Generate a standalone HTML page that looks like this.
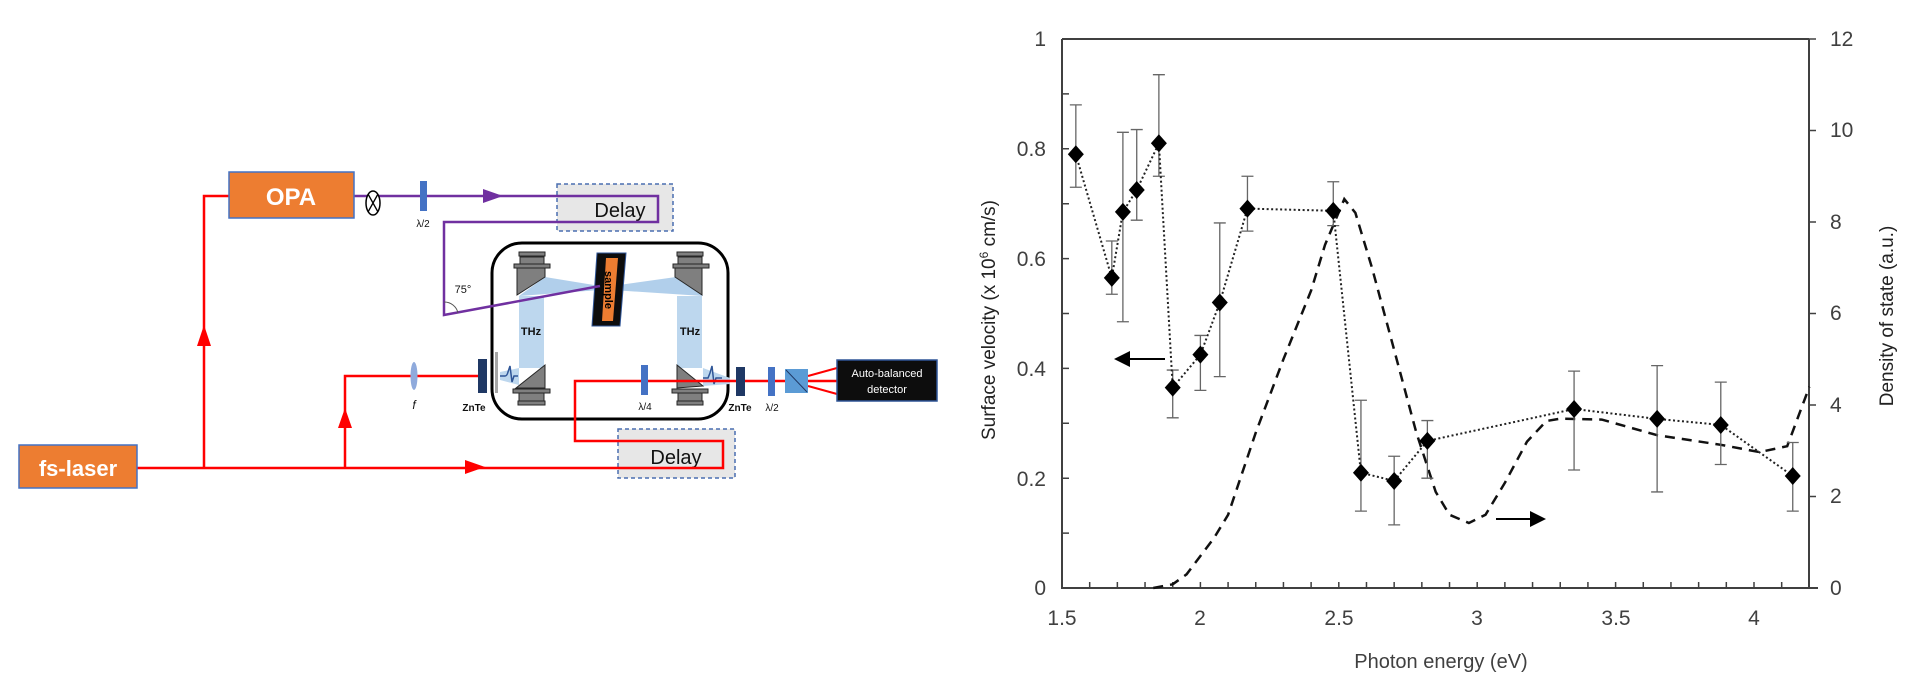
<!DOCTYPE html>
<html><head><meta charset="utf-8"><style>
html,body{margin:0;padding:0;background:#fff;}
svg{display:block;}
text{font-family:"Liberation Sans",sans-serif;}
</style></head><body>
<svg id="s" width="1920" height="682" viewBox="0 0 1920 682" xmlns="http://www.w3.org/2000/svg">
<rect width="1920" height="682" fill="#fff"/>

<!-- ===== LEFT DIAGRAM ===== -->
<!-- delay boxes -->
<rect x="557" y="184" width="116" height="47" fill="#e7e7e7" stroke="#4a6fb0" stroke-width="1.5" stroke-dasharray="4,3"/>
<rect x="618" y="429" width="117" height="49" fill="#e7e7e7" stroke="#4a6fb0" stroke-width="1.5" stroke-dasharray="4,3"/>
<text x="620" y="217" font-size="20" text-anchor="middle" fill="#111">Delay</text>
<text x="676" y="464" font-size="20" text-anchor="middle" fill="#111">Delay</text>

<!-- black rounded box -->
<rect x="492" y="243" width="236" height="176" rx="30" fill="none" stroke="#000" stroke-width="3"/>

<!-- THz beams -->
<polygon points="519,296 545,277 600,286 600,290" fill="#9dc3e6" opacity="0.8"/>
<polygon points="703,296 676,277 612,286 612,290" fill="#9dc3e6" opacity="0.8"/>
<rect x="519" y="296" width="25" height="72" fill="#bdd7ee"/>
<rect x="677" y="296" width="25" height="72" fill="#bdd7ee"/>
<polygon points="500,372 519,368 519,385 500,380" fill="#bdd7ee"/>
<polygon points="703,368 730,378 730,384 703,386" fill="#bdd7ee"/>

<!-- mirrors -->
<g fill="#7f7f7f" stroke="#262626" stroke-width="1">
<polygon points="517,268 545,268 545,277 517,295"/>
<rect x="514" y="264" width="36" height="4"/>
<rect x="520" y="257" width="24" height="7"/>
<rect x="519" y="252" width="26" height="4"/>
<polygon points="675,268 702,268 702,295 675,277"/>
<rect x="673" y="264" width="36" height="4"/>
<rect x="678" y="257" width="24" height="7"/>
<rect x="677" y="252" width="26" height="4"/>
<polygon points="516,388 545,365 545,388"/>
<rect x="513" y="389" width="37" height="4"/>
<rect x="519" y="393" width="25" height="8"/>
<rect x="518" y="401" width="27" height="4"/>
<polygon points="677,365 703,386 677,388"/>
<rect x="672" y="389" width="36" height="4"/>
<rect x="678" y="393" width="24" height="8"/>
<rect x="677" y="401" width="26" height="4"/>
</g>
<text x="531" y="335" font-size="11" font-weight="bold" text-anchor="middle" fill="#111">THz</text>
<text x="690" y="335" font-size="11" font-weight="bold" text-anchor="middle" fill="#111">THz</text>

<!-- wave pulses -->
<path d="M500,376 L505,376 Q507,376 508,372 L510,366 L512,382 L514,376 L518,376" fill="none" stroke="#2e5597" stroke-width="1.5"/>
<path d="M703,378 L708,378 L710,373 L712,366 L714,384 L716,378 L722,378" fill="none" stroke="#2e5597" stroke-width="1.5"/>

<!-- sample -->
<polygon points="597,253 626,253 620,326 592,326" fill="#0d0d0d" stroke="#2f5597" stroke-width="1"/>
<polygon points="606,258 618,258 613,321 602,321" fill="#ed7d31"/>
<text transform="translate(609,290) rotate(90)" font-size="11" font-weight="bold" text-anchor="middle" fill="#000" dy="4">sample</text>

<!-- purple path -->
<path d="M354,196 L658,196 L658,222 L444,222 L444,315 L600,286" fill="none" stroke="#7030a0" stroke-width="2.5"/>
<polygon points="483,189 503,196 483,203" fill="#7030a0"/>
<path d="M444,302 A14,14 0 0 1 458,313" fill="none" stroke="#555" stroke-width="1"/>
<text x="463" y="293" font-size="11" text-anchor="middle" fill="#111">75°</text>
<!-- otimes -->
<ellipse cx="373" cy="203" rx="7" ry="12" fill="#fff" stroke="#000" stroke-width="1.5"/>
<path d="M368,194 L378,212 M378,194 L368,212" stroke="#000" stroke-width="1.3"/>
<!-- λ/2 top -->
<rect x="420" y="181" width="7" height="30" fill="#4472c4"/>
<text x="423" y="227" font-size="10" text-anchor="middle" fill="#111">λ/2</text>

<!-- red paths -->
<g fill="none" stroke="#ff0000" stroke-width="2.5">
<path d="M137,468 L723,468 L723,441 L575,441 L575,381 L837,381"/>
<path d="M204,468 L204,196 L229,196"/>
<path d="M345,468 L345,376 L478,376"/>
<path d="M808,376 L837,368 M808,386 L837,394" stroke-width="2"/>
</g>
<polygon points="197,346 204,325 211,346" fill="#ff0000"/>
<polygon points="338,428 345,408 352,428" fill="#ff0000"/>
<polygon points="465,460 485,467 465,474" fill="#ff0000"/>

<!-- optics on probe -->
<ellipse cx="414" cy="376" rx="3.5" ry="14" fill="#8faadc"/>
<text x="414" y="409" font-size="12" font-style="italic" font-family="Liberation Serif" text-anchor="middle" fill="#111">f</text>
<rect x="478" y="359" width="9" height="34" fill="#1f3864"/>
<rect x="495" y="352" width="3" height="41" fill="#a6a6a6"/>
<text x="474" y="411" font-size="10" font-weight="bold" text-anchor="middle" fill="#111">ZnTe</text>
<rect x="641" y="365" width="7" height="30" fill="#4472c4"/>
<text x="645" y="410" font-size="10" text-anchor="middle" fill="#111">λ/4</text>
<rect x="736" y="367" width="9" height="29" fill="#1f3864"/>
<text x="740" y="411" font-size="10" font-weight="bold" text-anchor="middle" fill="#111">ZnTe</text>
<rect x="768" y="367" width="7" height="29" fill="#4472c4"/>
<text x="772" y="411" font-size="10" text-anchor="middle" fill="#111">λ/2</text>
<rect x="785" y="369" width="23" height="24" fill="#5b9bd5"/>
<path d="M786,370 L807,392" stroke="#1f3864" stroke-width="1"/>

<!-- boxes -->
<rect x="229" y="172" width="125" height="46" fill="#ed7d31" stroke="#4472c4" stroke-width="1.5"/>
<text x="291" y="205" font-size="24" font-weight="bold" text-anchor="middle" fill="#fff">OPA</text>
<rect x="19" y="445" width="118" height="43" fill="#ed7d31" stroke="#4472c4" stroke-width="1.5"/>
<text x="78" y="476" font-size="22" font-weight="bold" text-anchor="middle" fill="#fff">fs-laser</text>
<rect x="837" y="360" width="100" height="41" fill="#0d0d0d" stroke="#2f5597" stroke-width="1.5"/>
<text x="887" y="377" font-size="11" text-anchor="middle" fill="#fff">Auto-balanced</text>
<text x="887" y="393" font-size="11" text-anchor="middle" fill="#fff">detector</text>

<!-- ===== CHART ===== -->
<g id="chart"></g>
<g font-size="21" fill="#404040">
<text x="1046" y="46" text-anchor="end">1</text>
<text x="1046" y="156" text-anchor="end">0.8</text>
<text x="1046" y="266" text-anchor="end">0.6</text>
<text x="1046" y="376" text-anchor="end">0.4</text>
<text x="1046" y="486" text-anchor="end">0.2</text>
<text x="1046" y="595" text-anchor="end">0</text>
<text x="1830" y="46">12</text>
<text x="1830" y="137">10</text>
<text x="1830" y="229">8</text>
<text x="1830" y="320">6</text>
<text x="1830" y="412">4</text>
<text x="1830" y="503">2</text>
<text x="1830" y="595">0</text>
<text x="1062" y="625" text-anchor="middle">1.5</text>
<text x="1200" y="625" text-anchor="middle">2</text>
<text x="1339" y="625" text-anchor="middle">2.5</text>
<text x="1477" y="625" text-anchor="middle">3</text>
<text x="1616" y="625" text-anchor="middle">3.5</text>
<text x="1754" y="625" text-anchor="middle">4</text>
</g>
<text x="1441" y="668" font-size="20" fill="#404040" text-anchor="middle">Photon  energy (eV)</text>
<text transform="translate(995,320) rotate(-90)" font-size="19" fill="#222" text-anchor="middle">Surface velocity (x 10<tspan font-size="12" dy="-7">6</tspan><tspan dy="7"> cm/s)</tspan></text>
<text transform="translate(1893,316) rotate(-90)" font-size="19" fill="#222" text-anchor="middle">Density of state (a.u.)</text>
</svg>
<script>
(function(){
var NS="http://www.w3.org/2000/svg",g=document.getElementById("chart");
function X(e){return 1062+(e-1.5)*276.8;}
function Y(v){return 588-v*549;}
function D(d){return 588-d*45.75;}
function el(t,a){var n=document.createElementNS(NS,t);for(var k in a)n.setAttribute(k,a[k]);g.appendChild(n);return n;}
// axes
el("path",{d:"M1062,39 L1809,39 M1062,39 L1062,588 L1818,588 M1809,39 L1809,588",stroke:"#404040","stroke-width":"2",fill:"none"});
var d="";
for(var i=1;i<10;i++){d+="M1062,"+Y(i/10)+" l7,0 ";}
for(var e=1.6;e<4.2;e+=0.1){d+="M"+X(e)+",588 l0,-6 ";}
for(var k=0;k<=12;k+=2){d+="M1809,"+D(k)+" l7,0 ";}
el("path",{d:d,stroke:"#404040","stroke-width":"1.5",fill:"none"});
// DOS dashed
var dos=[[1.83,0],[1.9,0.08],[1.95,0.3],[2.0,0.7],[2.05,1.1],[2.1,1.6],[2.2,3.4],[2.3,5.0],[2.4,6.5],[2.45,7.5],[2.52,8.5],[2.56,8.2],[2.62,7.0],[2.7,5.2],[2.78,3.4],[2.85,2.1],[2.9,1.6],[2.97,1.42],[3.03,1.6],[3.1,2.3],[3.18,3.2],[3.25,3.65],[3.3,3.7],[3.45,3.68],[3.65,3.34],[3.88,3.13],[4.02,2.97],[4.12,3.1],[4.2,4.4]];
var p="";dos.forEach(function(q,i){p+=(i?"L":"M")+X(q[0]).toFixed(1)+","+D(q[1]).toFixed(1)+" ";});
el("path",{d:p,fill:"none",stroke:"#111","stroke-width":"2.5","stroke-dasharray":"10,7"});
// data
var pts=[[1.55,0.79,0.73,0.88],[1.68,0.565,0.535,0.632],[1.72,0.685,0.485,0.83],[1.77,0.725,0.67,0.835],[1.85,0.81,0.75,0.935],[1.9,0.365,0.31,0.397],[2.0,0.425,0.36,0.46],[2.07,0.52,0.385,0.665],[2.17,0.691,0.65,0.75],[2.48,0.687,0.66,0.74],[2.58,0.21,0.14,0.342],[2.7,0.195,0.115,0.24],[2.82,0.268,0.2,0.305],[3.35,0.326,0.215,0.395],[3.65,0.308,0.175,0.405],[3.88,0.297,0.225,0.375],[4.14,0.204,0.14,0.265]];
var ep="";pts.forEach(function(q){var x=X(q[0]);ep+="M"+x+","+Y(q[2])+" L"+x+","+Y(q[3])+" M"+(x-6)+","+Y(q[2])+" l12,0 M"+(x-6)+","+Y(q[3])+" l12,0 ";});
el("path",{d:ep,stroke:"#666","stroke-width":"1.3",fill:"none"});
var lp="";pts.forEach(function(q,i){lp+=(i?"L":"M")+X(q[0]).toFixed(1)+","+Y(q[1]).toFixed(1)+" ";});
el("path",{d:lp,fill:"none",stroke:"#222","stroke-width":"2","stroke-dasharray":"2,2.5"});
pts.forEach(function(q){var x=X(q[0]),y=Y(q[1]);el("polygon",{points:(x-8)+","+y+" "+x+","+(y-9)+" "+(x+8)+","+y+" "+x+","+(y+9),fill:"#000"});});
// arrows
el("path",{d:"M1128,359 L1165,359 M1496,519 L1532,519",stroke:"#000","stroke-width":"2"});
el("polygon",{points:"1114,359 1130,351 1130,367",fill:"#000"});
el("polygon",{points:"1546,519 1530,511 1530,527",fill:"#000"});
})();
</script>
</body></html>
